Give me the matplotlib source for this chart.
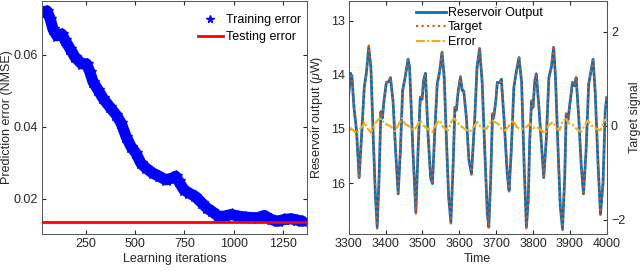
import numpy as np
import matplotlib.pyplot as plt

plt.rcParams['font.family'] = ['Liberation Sans', 'DejaVu Sans']
plt.rcParams['font.size'] = 9
plt.rcParams['mathtext.fontset'] = 'custom'
plt.rcParams['mathtext.it'] = 'Liberation Sans:italic'

# ---- left panel: training / testing error ----
iters = [32, 52, 69, 82, 102, 127, 144, 169, 194, 228, 253, 270, 286, 312, 337,
         370, 404, 429, 454, 479, 504, 529, 554, 588, 621, 655, 688, 705, 721,
         746, 771, 805, 838, 863, 888, 922, 955, 989, 1022, 1056, 1089, 1123,
         1156, 1190, 1223, 1257, 1290, 1324, 1349]
train_err = [0.0718, 0.0722, 0.0699, 0.0672, 0.0653, 0.0658, 0.0640, 0.0617,
             0.0594, 0.0575, 0.0575, 0.0552, 0.0525, 0.0502, 0.0479, 0.0456,
             0.0433, 0.0410, 0.0373, 0.0345, 0.0327, 0.0299, 0.0286, 0.0272,
             0.0263, 0.0253, 0.0258, 0.0263, 0.0249, 0.0226, 0.0217, 0.0207,
             0.0189, 0.0175, 0.0166, 0.0152, 0.0152, 0.0157, 0.0152, 0.0150,
             0.0148, 0.0148, 0.0154, 0.0143, 0.0138, 0.0143, 0.0145, 0.0141,
             0.0138]
test_err = 0.0137

# ---- right panel: reservoir output vs target ----
time = [3300, 3305, 3309, 3314, 3321, 3328, 3334, 3342, 3348, 3354, 3360, 3366,
        3372, 3377, 3382, 3387, 3391, 3396, 3402, 3409, 3413, 3420, 3427, 3434,
        3440, 3446, 3452, 3461, 3465, 3474, 3482, 3488, 3494, 3499, 3503, 3508,
        3515, 3522, 3527, 3533, 3540, 3547, 3553, 3559, 3565, 3571, 3577, 3583,
        3588, 3592, 3597, 3603, 3608, 3612, 3619, 3626, 3633, 3642, 3648, 3655,
        3662, 3669, 3676, 3680, 3685, 3690, 3693, 3699, 3703, 3710, 3714, 3721,
        3730, 3735, 3741, 3748, 3755, 3762, 3769, 3776, 3782, 3787, 3791, 3796,
        3800, 3805, 3809, 3816, 3823, 3829, 3836, 3843, 3850, 3856, 3861, 3868,
        3874, 3880, 3886, 3890, 3895, 3901, 3907, 3913, 3917, 3924, 3931, 3937,
        3944, 3951, 3956, 3963, 3969, 3976, 3983, 3990, 3996, 4000]
reservoir = [14.35, 13.97, 14.07, 14.60, 15.03, 15.90, 15.20, 14.23, 13.95, 13.49,
             13.86, 15.09, 16.20, 16.81, 15.95, 14.68, 14.80, 14.45, 14.14, 14.12,
             14.05, 14.48, 15.40, 16.20, 15.40, 14.29, 14.08, 13.71, 13.86, 15.40,
             16.54, 15.40, 14.41, 14.45, 14.10, 13.97, 15.09, 15.90, 16.01, 15.10,
             14.17, 13.92, 13.58, 14.05, 15.20, 16.26, 16.72, 15.70, 14.60, 14.65,
             14.30, 14.05, 14.29, 14.30, 14.78, 15.58, 15.83, 14.78, 13.86, 13.52,
             14.14, 15.40, 16.57, 16.81, 15.95, 14.72, 14.80, 14.48, 14.14, 14.14,
             14.08, 14.78, 15.83, 16.14, 15.40, 14.23, 13.93, 13.68, 14.14, 15.70,
             16.81, 16.32, 15.21, 14.48, 14.60, 14.10, 13.98, 14.60, 15.30, 15.90,
             15.20, 14.05, 13.85, 13.49, 14.05, 15.40, 16.44, 16.84, 15.90, 14.72,
             14.83, 14.48, 14.14, 14.20, 14.05, 14.78, 15.70, 16.20, 15.40, 14.17,
             13.98, 13.71, 14.35, 15.58, 16.57, 16.00, 14.66, 14.42]
target = [0.685, 1.12, 1.006, 0.398, -0.095, -1.12, -0.29, 0.822, 1.143, 1.71,
          1.247, -0.164, -1.437, -2.19, -1.151, 0.306, 0.168, 0.57, 0.925, 0.948,
          1.029, 0.535, -0.52, -1.47, -0.52, 0.753, 0.994, 1.45, 1.247, -0.52,
          -1.87, -0.52, 0.616, 0.57, 0.971, 1.12, -0.164, -1.093, -1.24, -0.176,
          0.891, 1.178, 1.6, 1.029, -0.29, -1.506, -2.08, -0.864, 0.398, 0.34,
          0.742, 1.06, 0.753, 0.742, 0.191, -0.726, -1.04, 0.191, 1.247, 1.68,
          0.925, -0.52, -1.862, -2.19, -1.151, 0.26, 0.168, 0.535, 0.925, 0.925,
          0.994, 0.191, -1.013, -1.4, -0.52, 0.822, 1.166, 1.49, 0.925, -0.864,
          -2.18, -1.575, -0.302, 0.535, 0.398, 0.971, 1.109, 0.398, -0.405, -1.12,
          -0.29, 1.029, 1.258, 1.71, 1.029, -0.52, -1.713, -2.22, -1.093, 0.26,
          0.134, 0.535, 0.925, 0.857, 1.029, 0.191, -0.864, -1.47, -0.52, 0.891,
          1.109, 1.45, 0.685, -0.726, -1.9, -1.208, 0.329, 0.604]

err_time = [3300, 3312, 3321, 3330, 3339, 3343, 3351, 3360, 3371, 3380, 3389, 3396,
            3405, 3416, 3425, 3434, 3445, 3452, 3466, 3475, 3484, 3493, 3502, 3515,
            3526, 3538, 3547, 3556, 3569, 3580, 3587, 3601, 3614, 3628, 3642, 3649,
            3660, 3673, 3687, 3696, 3705, 3714, 3725, 3737, 3746, 3755, 3768, 3782,
            3791, 3800, 3809, 3823, 3832, 3842, 3854, 3863, 3872, 3881, 3890, 3899,
            3908, 3917, 3931, 3940, 3949, 3958, 3971, 3983, 3992, 3998]
error = [-0.025, -0.095, -0.166, -0.074, 0.011, 0.081, -0.06, -0.145, 0.046, 0.138,
         0.152, 0.046, 0.025, -0.025, -0.116, 0.011, 0.166, 0.046, -0.025, -0.095,
         -0.025, 0.116, 0.011, -0.074, -0.13, 0.046, 0.116, -0.025, -0.095, 0.116,
         0.152, 0.011, -0.06, -0.13, 0.011, 0.081, -0.046, -0.074, 0.116, 0.081,
         0.046, -0.06, -0.095, 0.025, 0.116, -0.025, -0.074, -0.025, 0.046, -0.046,
         -0.025, -0.095, -0.166, 0.011, 0.081, -0.046, -0.095, 0.116, 0.138, 0.046,
         0.025, -0.06, -0.13, 0.011, 0.116, 0.011, -0.06, -0.095, 0.081, 0.152]

c_blue = '#0072BD'
c_red = '#D95319'
c_yel = '#EDB120'
c_axis = '#262626'

fig = plt.figure(figsize=(6.4, 2.71), dpi=100)

def style(ax):
    ax.tick_params(direction='in', length=3, colors=c_axis, labelsize=9,
                   top=True, right=True, pad=3)
    for s in ax.spines.values():
        s.set_color('#555555')
        s.set_linewidth(0.7)

# left panel
ax1 = fig.add_axes([0.066, 0.137, 0.413, 0.86])
ax1.plot(iters, train_err, color='b', lw=8, solid_capstyle='round',
         solid_joinstyle='round', zorder=2)
ax1.plot(iters, train_err, '*', color='b', ms=9, zorder=2, label='Training error')
ax1.axhline(test_err, color='r', lw=2, zorder=3, label='Testing error')
ax1.set_xlim(28, 1370)
ax1.set_ylim(0.0103, 0.075)
ax1.set_xticks([250, 500, 750, 1000, 1250])
ax1.set_yticks([0.02, 0.04, 0.06])
ax1.set_yticklabels(['0.02', '0.04', '0.06'])
ax1.set_xlabel('Learning iterations', color=c_axis, labelpad=2)
ax1.set_ylabel('Prediction error (NMSE)', color=c_axis)
ax1.yaxis.set_label_coords(-0.112, 0.5)
style(ax1)
ax1.legend(loc='upper right', frameon=False, fontsize=9, handlelength=2.0,
           handletextpad=0.3, borderaxespad=0.0, labelspacing=0.4,
           markerscale=0.6, bbox_to_anchor=(1.0, 0.965))

# right panel
ax2 = fig.add_axes([0.545, 0.137, 0.403, 0.86])
ax3 = ax2.twinx()
l1, = ax2.plot(time, reservoir, color=c_blue, lw=2.0, label='Reservoir Output')
l2, = ax3.plot(time, target, color=c_red, lw=1.5, ls=':', label='Target')
l3, = ax3.plot(err_time, error, color=c_yel, lw=1.6, dashes=(4, 1, 1, 1),
               label='Error')
ax2.set_xlim(3300, 4000)
ax2.set_ylim(16.94, 12.63)
ax3.set_ylim(-2.30, 2.66)
ax2.set_xticks(np.arange(3300, 4001, 100))
ax2.set_yticks([13, 14, 15, 16])
ax3.set_yticks([-2, 0, 2])
ax2.set_xlabel('Time', color=c_axis, labelpad=2)
ax2.set_ylabel(r'Reservoir output ($\mu$W)', color=c_axis)
ax2.yaxis.set_label_coords(-0.093, 0.5)
ax3.set_ylabel('Target signal', color=c_axis)
ax3.yaxis.set_label_coords(1.085, 0.5)
style(ax2)
ax2.tick_params(right=False)
ax3.tick_params(direction='in', length=3, colors=c_axis, labelsize=9, pad=3)
for s in ax3.spines.values():
    s.set_color('#555555')
    s.set_linewidth(0.7)
ax3.legend(handles=[l1, l2, l3], loc='upper left', frameon=False, fontsize=9,
           bbox_to_anchor=(0.243, 0.995), handlelength=2.4, handletextpad=0.1,
           labelspacing=0.2, borderaxespad=0.0)

fig.savefig('out.png', dpi=100)
